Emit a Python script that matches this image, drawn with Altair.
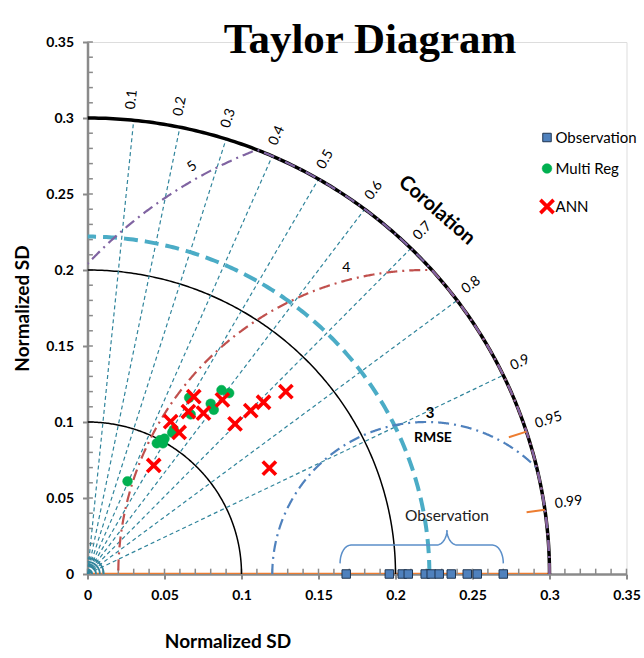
import numpy as np
import pandas as pd
import altair as alt

# ---------------- data ----------------
CORR_LINES = [0.1, 0.2, 0.3, 0.4, 0.5, 0.6, 0.7, 0.8, 0.9]
CORR_LABELS = [0.1, 0.2, 0.3, 0.4, 0.5, 0.6, 0.7, 0.8, 0.9, 0.95, 0.99]
CORR_TICKS = [0.95, 0.99]
SD_ARCS = [0.1, 0.2]
SD_MAX = 0.3
OBS_ARC = 0.222
RMSE_CENTER = 0.22
RMSE_RADII = [0.1, 0.2, 0.3]
OBS_SD = [0.168, 0.196, 0.2044, 0.2083, 0.2193, 0.2232, 0.2284, 0.2362, 0.2466, 0.2531, 0.270]
MULTI_X = [0.026, 0.045, 0.047, 0.049, 0.050, 0.055, 0.056, 0.066, 0.067, 0.080, 0.082, 0.087, 0.092]
MULTI_Y = [0.061, 0.086, 0.088, 0.086, 0.089, 0.093, 0.095, 0.116, 0.105, 0.112, 0.108, 0.121, 0.119]
ANN_X = [0.043, 0.054, 0.0595, 0.0655, 0.069, 0.0753, 0.0876, 0.0958, 0.106, 0.1143, 0.1288, 0.1181]
ANN_Y = [0.0714, 0.1003, 0.0931, 0.1069, 0.1167, 0.1058, 0.1145, 0.0988, 0.1075, 0.113, 0.120, 0.0696]
SERIES = ["Observation", "Multi Reg", "ANN"]
AXIS_VALUES = [0, 0.05, 0.1, 0.15, 0.2, 0.25, 0.3, 0.35]
MINOR_VALUES = [round(i * 0.01, 2) for i in range(36)]

TEAL = "#31859c"
GREY = "#8a8a8a"
FONT = "Lato"

xs = alt.Scale(domain=[0, 0.35], nice=False, zero=False)
ys = alt.Scale(domain=[0, 0.35], nice=False, zero=False)

X_AX = alt.Axis(values=AXIS_VALUES, format="~g", grid=False, domainColor=GREY, domainWidth=2.5,
                tickColor=GREY, tickWidth=2, tickSize=5, labelFont=FONT, labelFontWeight="bold",
                labelFontSize=14, labelColor="black", labelPadding=9, labelFlush=False,
                labelOverlap=False, title="Normalized SD", titleFont=FONT, titleFontSize=19,
                titleFontWeight="bold", titleColor="black", titleX=140, titleY=67,
                titleBaseline="middle", titleAlign="center")
Y_AX = alt.Axis(values=AXIS_VALUES, format="~g", grid=False, domainColor=GREY, domainWidth=2.5,
                tickColor=GREY, tickWidth=2, tickSize=5, labelFont=FONT, labelFontWeight="bold",
                labelFontSize=14, labelColor="black", labelPadding=9, labelFlush=False,
                labelOverlap=False, title="Normalized SD", titleFont=FONT, titleFontSize=19,
                titleFontWeight="bold", titleColor="black", titleX=-65, titleY=266,
                titleBaseline="middle", titleAlign="center", titleAngle=270)


def X(f="x"):
    return alt.X(f"{f}:Q", scale=xs, axis=X_AX)


def Y(f="y"):
    return alt.Y(f"{f}:Q", scale=ys, axis=Y_AX)


def cdf(px, py, g):
    return pd.DataFrame({"x": px, "y": py, "g": g, "i": np.arange(len(px))})


def lines(df, color, width, dash=None):
    kw = dict(color=color, strokeWidth=width, clip=True)
    if dash:
        kw["strokeDash"] = dash
    return alt.Chart(df).mark_line(**kw).encode(x=X(), y=Y(), detail="g:N", order="i:Q")


def arc(r, g, t0=0.0, t1=np.pi / 2, n=200):
    t = np.linspace(t0, t1, n)
    return cdf(r * np.cos(t), r * np.sin(t), g)


# SD arcs
outer = lines(arc(SD_MAX, "outer"), "black", 3.5)
inner = lines(pd.concat([arc(r, f"a{r}") for r in SD_ARCS]), "black", 1.5)
origin_fan = lines(pd.concat([arc(r, f"o{r}") for r in [0.003, 0.0055, 0.008, 0.0105]]), TEAL, 1.8)

# correlation rays
ray_parts = []
for c in CORR_LINES:
    s = np.sqrt(1 - c * c)
    ray_parts.append(cdf([0, SD_MAX * c], [0, SD_MAX * s], f"c{c}"))
rays = lines(pd.concat(ray_parts), TEAL, 1.2, [4, 3])

tick_parts = []
for c in CORR_TICKS:
    s = np.sqrt(1 - c * c)
    tick_parts.append(cdf([0.288 * c, 0.3 * c], [0.288 * s, 0.3 * s], f"t{c}"))
corr_ticks = lines(pd.concat(tick_parts), "#ed7d31", 2)

# observation SD arc
obs_arc = lines(arc(OBS_ARC, "obs"), "#4bacc6", 4, [14, 7])


# RMSE arcs (clipped to the outer SD arc)
def rmse_curve(R, g):
    t = np.linspace(0, np.pi, 900)
    px = RMSE_CENTER + R * np.cos(t)
    py = R * np.sin(t)
    keep = px >= 0
    px, py = px[keep], py[keep]
    f = np.minimum(1.0, SD_MAX / np.hypot(px, py))
    return cdf(px * f, py * f, g)


rmse_cols = ["#4f81bd", "#c0504d", "#8064a2"]
rmse_layers = [lines(rmse_curve(R, f"r{R}"), col, 2.2, [11, 5, 2, 5])
               for R, col in zip(RMSE_RADII, rmse_cols)]

# orange line on the x axis
xline = lines(cdf([0, SD_MAX], [0, 0], "xl"), "#ed7d31", 2.5)

# inner minor ticks
mt_x = pd.DataFrame({"x": MINOR_VALUES, "y": 0.0, "y2": 0.0035})
mt_y = pd.DataFrame({"y": MINOR_VALUES, "x": 0.0, "x2": 0.0035})
minor_x = alt.Chart(mt_x).mark_rule(color=GREY, strokeWidth=1.5).encode(x=X(), y=Y(), y2="y2:Q")
minor_y = alt.Chart(mt_y).mark_rule(color=GREY, strokeWidth=1.5).encode(x=X(), x2="x2:Q", y=Y())


# brace over observations
def brace():
    xl, xr, xm = 0.164, 0.270, 0.2334
    y0, y1, y2 = 0.007, 0.019, 0.029
    rx = 0.007
    t = np.linspace(0, np.pi / 2, 20)
    p1x = (xl + rx) - rx * np.cos(t); p1y = y0 + (y1 - y0) * np.sin(t)
    p2x = (xm - rx) + rx * np.sin(t); p2y = y2 - (y2 - y1) * np.cos(t)
    p3x = (xm + rx) - rx * np.sin(t[::-1]); p3y = y2 - (y2 - y1) * np.cos(t[::-1])
    p4x = (xr - rx) + rx * np.sin(t); p4y = y0 + (y1 - y0) * np.cos(t)
    px = np.concatenate([p1x, p2x, p3x, p4x])
    py = np.concatenate([p1y, p2y, p3y, p4y])
    return cdf(px, py, "brace")


brace_layer = lines(brace(), "#5b8fc9", 1.5)

# points
pts = pd.concat([
    pd.DataFrame({"x": OBS_SD, "y": 0.0, "series": SERIES[0]}),
    pd.DataFrame({"x": MULTI_X, "y": MULTI_Y, "series": SERIES[1]}),
    pd.DataFrame({"x": ANN_X, "y": ANN_Y, "series": SERIES[2]}),
], ignore_index=True)
pts["k"] = np.arange(len(pts))

leg = alt.Legend(title=None, orient="none", legendX=451, legendY=88, labelFont=FONT,
                 labelFontSize=15, labelColor="black", rowPadding=15, labelOffset=0, padding=0)
points = alt.Chart(pts).mark_point(filled=True, opacity=1).encode(
    x=X(), y=Y(),
    shape=alt.Shape("series:N", scale=alt.Scale(type="ordinal", domain=SERIES,
                    range=["square", "circle", "M-1,-1L1,1M1,-1L-1,1"]), legend=leg),
    fill=alt.Fill("series:N", scale=alt.Scale(type="ordinal", domain=SERIES,
                  range=["#4f81bd", "#00b050", "#ff0000"]), legend=leg),
    stroke=alt.Stroke("series:N", scale=alt.Scale(type="ordinal", domain=SERIES,
                      range=["#1f3550", "#00b050", "#ff0000"]), legend=leg),
    strokeWidth=alt.StrokeWidth("series:N", scale=alt.Scale(type="ordinal", domain=SERIES,
                                range=[1, 0.5, 3.6]), legend=leg),
    size=alt.Size("series:N", scale=alt.Scale(type="ordinal", domain=SERIES,
                  range=[72, 95, 175]), legend=leg),
    order="k:Q",
)

# correlation labels
lab_r = 0.307
ang = [np.degrees(np.arccos(c)) for c in CORR_LABELS]
cl = pd.DataFrame({
    "x": [lab_r * c for c in CORR_LABELS],
    "y": [lab_r * np.sqrt(1 - c * c) for c in CORR_LABELS],
    "text": [f"{c:g}" for c in CORR_LABELS],
    "angle": [360 - a for a in ang],
})
corr_labels = alt.Chart(cl).mark_text(font=FONT, fontSize=14, align="left", baseline="middle",
                                      dy=-4, color="black").encode(
    x=X(), y=Y(), text="text:N", angle=alt.Angle("angle:Q", scale=None))


def note(x, y, text, size=14, weight="normal", angle=0, color="black"):
    d = pd.DataFrame({"x": [x], "y": [y], "text": [text]})
    kw = dict(font=FONT, fontSize=size, fontWeight=weight, color=color)
    if angle:
        kw["angle"] = angle
    return alt.Chart(d).mark_text(**kw).encode(x=X(), y=Y(), text="text:N")


notes = [
    note(0.2269, 0.2393, "Corolation", 20, "bold", 41),
    note(0.2225, 0.1058, "3", 15, "bold"),
    note(0.2243, 0.0894, "RMSE", 14, "bold"),
    note(0.168, 0.201, "4", 14),
    note(0.068, 0.268, "5", 14, "normal", 322),
    note(0.2334, 0.0379, "Observation", 15.5, "normal", 0, "#222222"),
]

chart = alt.layer(
    xline, minor_x, minor_y, inner, origin_fan, rays, obs_arc, outer, *rmse_layers, corr_ticks,
    brace_layer, points, corr_labels, *notes,
).properties(
    width=539, height=532,
    autosize=alt.AutoSizeParams(type="none"),
    padding={"left": 87.5, "top": 42, "right": 17.5, "bottom": 84},
    title=alt.TitleParams("Taylor Diagram", font="Liberation Serif", fontSize=43, fontWeight="bold",
                          color="black", anchor="middle", dx=13, offset=-61, baseline="alphabetic"),
).configure_view(stroke=None).configure(background="white")

chart.save("out.html", embed_options={"renderer": "svg", "actions": False})
